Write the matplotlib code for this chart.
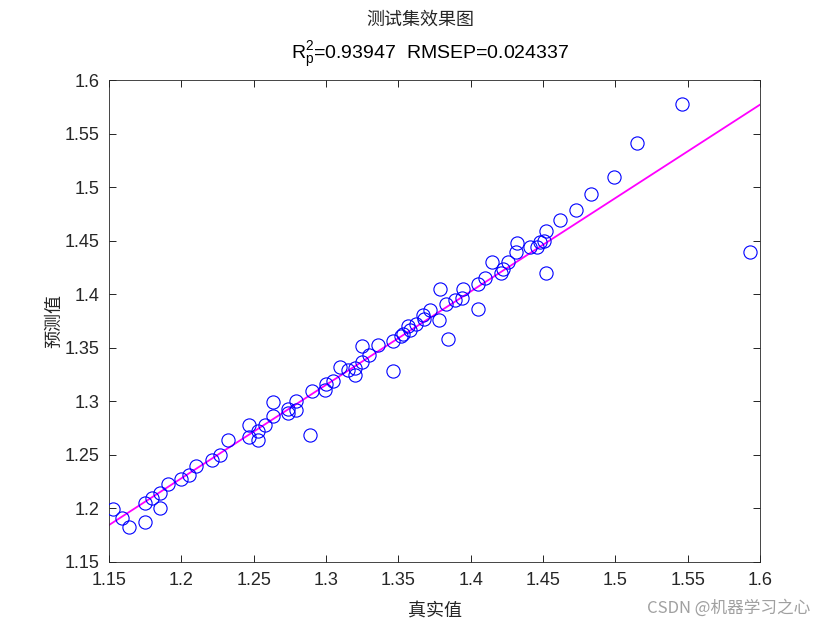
import matplotlib
matplotlib.use("Agg")
import matplotlib.pyplot as plt

# test-set values
y_true = [
    1.153, 1.159, 1.164, 1.175, 1.175, 1.180, 1.185, 1.185, 1.191, 1.200,
    1.205, 1.210, 1.221, 1.227, 1.232, 1.247, 1.247, 1.253, 1.253, 1.258,
    1.263, 1.263, 1.274, 1.274, 1.279, 1.279, 1.290, 1.289, 1.299, 1.300,
    1.305, 1.310, 1.315, 1.320, 1.320, 1.325, 1.325, 1.330, 1.336, 1.346,
    1.346, 1.352, 1.353, 1.357, 1.358, 1.362, 1.367, 1.368, 1.372, 1.378,
    1.379, 1.383, 1.384, 1.389, 1.394, 1.395, 1.405, 1.405, 1.410, 1.415,
    1.421, 1.422, 1.426, 1.431, 1.432, 1.441, 1.446, 1.448, 1.451, 1.452,
    1.452, 1.462, 1.473, 1.483, 1.499, 1.515, 1.546, 1.593,
]
y_pred = [
    1.199, 1.191, 1.183, 1.187, 1.205, 1.210, 1.214, 1.200, 1.223, 1.227,
    1.231, 1.240, 1.245, 1.250, 1.264, 1.267, 1.278, 1.272, 1.264, 1.278,
    1.299, 1.286, 1.289, 1.293, 1.292, 1.300, 1.310, 1.269, 1.311, 1.316,
    1.319, 1.332, 1.329, 1.325, 1.331, 1.337, 1.352, 1.343, 1.353, 1.328,
    1.356, 1.361, 1.363, 1.370, 1.367, 1.372, 1.381, 1.377, 1.385, 1.376,
    1.405, 1.391, 1.358, 1.395, 1.396, 1.405, 1.386, 1.410, 1.415, 1.430,
    1.420, 1.424, 1.430, 1.439, 1.448, 1.444, 1.444, 1.449, 1.450, 1.459,
    1.420, 1.469, 1.479, 1.494, 1.509, 1.541, 1.578, 1.439,
]

# fitted line
fit_x = [1.15, 1.6]
fit_y = [1.1845, 1.5770]

ticks = [1.15, 1.2, 1.25, 1.3, 1.35, 1.4, 1.45, 1.5, 1.55, 1.6]
tick_labels = ["1.15", "1.2", "1.25", "1.3", "1.35", "1.4", "1.45", "1.5", "1.55", "1.6"]

title_cn = "测试集效果图"
r2_text = "0.93947"
rmsep_text = "0.024337"

cjk = ["Noto Sans CJK SC", "DejaVu Sans"]
latin = ["Liberation Sans", "DejaVu Sans"]
ink = "#262626"

fig = plt.figure(figsize=(8.4, 6.3), dpi=100)
ax = fig.add_axes([0.1298, 0.108, 0.775, 0.765])

ax.plot(fit_x, fit_y, color="#ff00ff", linewidth=1.3, zorder=2)
ax.plot(y_true, y_pred, linestyle="none", marker="o", markersize=9.5,
        markerfacecolor="none", markeredgecolor="#0000ff", markeredgewidth=0.8, zorder=3)

ax.set_xlim(1.15, 1.6)
ax.set_ylim(1.15, 1.6)
ax.set_xticks(ticks)
ax.set_xticklabels(tick_labels)
ax.set_yticks(ticks)
ax.set_yticklabels(tick_labels)
ax.tick_params(direction="in", top=True, right=True, length=5, width=0.6,
               labelsize=13, pad=7)
for lbl in ax.get_xticklabels() + ax.get_yticklabels():
    lbl.set_family(latin)
    lbl.set_color(ink)
for spine in ax.spines.values():
    spine.set_linewidth(0.6)
    spine.set_color(ink)

ax.set_xlabel("真实值", family=cjk, fontsize=13, color=ink, labelpad=10)
ax.set_ylabel("预测值", family=cjk, fontsize=13, color=ink, labelpad=1)

fig.text(0.5, 0.969, title_cn, ha="center", va="center", family=cjk,
         fontsize=13, color=ink)
fig.text(0.512, 0.913,
         r"$\mathregular{R_p^2}$" + f"={r2_text}  RMSEP={rmsep_text}",
         ha="center", va="center", family=latin, fontsize=14, color="#000000")

fig.text(0.868, 0.035, "CSDN @机器学习之心", ha="center", va="center",
         family=cjk, fontsize=12, color="#a0a0a0")

fig.savefig("out.png", dpi=100)
